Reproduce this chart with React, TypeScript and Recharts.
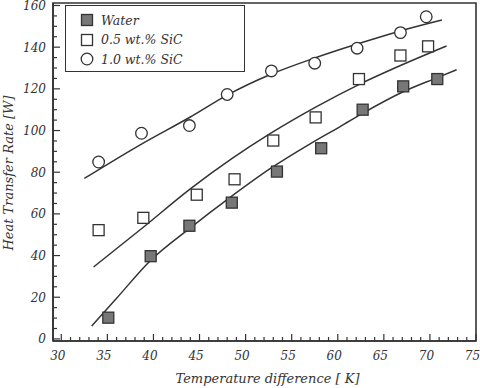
import React from "react";
import {
  ComposedChart,
  Line,
  Scatter,
  XAxis,
  YAxis,
  ReferenceArea,
} from "recharts";

// measured points
const waterX = [35.1, 39.7, 43.9, 48.5, 53.4, 58.2, 62.7, 67.1, 70.8];
const waterY = [10.2, 39.7, 54.3, 65.4, 80.3, 91.5, 110, 121.2, 124.7];
const sic05X = [34.05, 38.9, 44.7, 48.8, 53.0, 57.6, 62.3, 66.8, 69.8];
const sic05Y = [52.2, 58.1, 69.2, 76.6, 95.2, 106.3, 124.7, 136, 140.4];
const sic10X = [34.05, 38.7, 43.9, 48.0, 52.8, 57.5, 62.1, 66.8, 69.6];
const sic10Y = [84.9, 98.7, 102.4, 117.3, 128.6, 132.3, 139.5, 147, 154.6];

// fit curves
const fitWaterX = [33.3, 36, 39.6, 44, 48.1, 52.7, 57, 60.3, 62.6, 67.1, 70.8, 72.9];
const fitWaterY = [6.2, 19.5, 37.3, 53.3, 67.2, 81.8, 93.6, 102, 108, 118.6, 125.4, 129.2];
const fit05X = [33.5, 38.9, 44, 48.5, 52.65, 57.7, 62.4, 66.8, 71.8];
const fit05Y = [34.5, 53.6, 72, 86.5, 98.5, 111.5, 122.3, 131.2, 140.6];
const fit10X = [32.5, 38.7, 44, 48, 52.75, 57.5, 62.1, 66.8, 71.3];
const fit10Y = [77, 93.5, 106.5, 117, 127, 134.8, 141.5, 147.8, 153];

const xMajor = [30, 35, 40, 45, 50, 55, 60, 65, 70, 75];
const yMajor = [0, 20, 40, 60, 80, 100, 120, 140, 160];

const legendNames = ["Water", "0.5 wt.% SiC", "1.0 wt.% SiC"];

const xMinor: number[] = [];
for (let v = xMajor[0]; v <= xMajor[xMajor.length - 1]; v++) xMinor.push(v);
const yMinor: number[] = [];
for (let v = yMajor[0]; v <= yMajor[yMajor.length - 1]; v += 5) yMinor.push(v);

const pts = (xs: number[], ys: number[]) => xs.map((x, i) => ({ x, y: ys[i] }));

const INK = "#333";
const FONT = "'DejaVu Serif', serif";

const XTick = (props: any) => {
  const { x, y, payload } = props;
  const major = payload.value % 5 === 0;
  return (
    <g>
      <line x1={x} x2={x} y1={y} y2={y - (major ? 7 : 4)} stroke={INK} strokeWidth={1.2} />
      {major && (
        <text x={x - 3.5} y={y + 19} textAnchor="middle" fontFamily={FONT} fontStyle="italic" fontSize={12} fill={INK}>
          {payload.value}
        </text>
      )}
    </g>
  );
};

const YTick = (props: any) => {
  const { x, y, payload } = props;
  const major = payload.value % 20 === 0;
  return (
    <g>
      <line x1={x} x2={x + (major ? 7 : 4)} y1={y} y2={y} stroke={INK} strokeWidth={1.2} />
      {major && (
        <text x={x - 7} y={y + 4.5} textAnchor="end" fontFamily={FONT} fontStyle="italic" fontSize={12} fill={INK}>
          {payload.value}
        </text>
      )}
    </g>
  );
};

const Square = (fill: string) => (props: any) => {
  const { cx, cy } = props;
  return <rect x={cx - 5.5} y={cy - 5.5} width={11} height={11} fill={fill} stroke={INK} strokeWidth={1.3} />;
};

const Circle = (props: any) => {
  const { cx, cy } = props;
  return <circle cx={cx} cy={cy} r={5.8} fill="#fff" stroke={INK} strokeWidth={1.3} />;
};

const LegendBox = () => (
  <div
    style={{
      position: "absolute",
      left: 65,
      top: 5,
      width: 178,
      height: 65,
      border: `1.5px solid ${INK}`,
      background: "#fff",
      fontFamily: FONT,
      fontStyle: "italic",
      fontSize: 12.5,
      color: INK,
    }}
  >
    {legendNames.map((name, i) => (
      <div key={name} style={{ position: "absolute", left: 14, top: 5 + i * 19.5, height: 18, display: "flex", alignItems: "center" }}>
        <svg width={14} height={14}>
          {i === 2 ? (
            <circle cx={7} cy={7} r={5.8} fill="#fff" stroke={INK} strokeWidth={1.3} />
          ) : (
            <rect x={1.5} y={1.5} width={11} height={11} fill={i === 0 ? "#777" : "#fff"} stroke={INK} strokeWidth={1.3} />
          )}
        </svg>
        <span style={{ marginLeft: 7 }}>{name}</span>
      </div>
    ))}
  </div>
);

export default function App() {
  return (
    <div style={{ position: "absolute", left: 0, top: 0, width: 480, height: 388, background: "#fff" }}>
      <ComposedChart width={480} height={388} margin={{ top: 3, right: 4, left: 0, bottom: 0 }}>
        <XAxis
          type="number"
          dataKey="x"
          domain={[29.1, 75]}
          ticks={xMinor}
          interval={0}
          allowDataOverflow
          height={47}
          tickSize={0}
          tickMargin={0}
          tickLine={false}
          axisLine={{ stroke: INK, strokeWidth: 1.6 }}
          tick={<XTick />}
          label={{
            content: (p: any) => {
              const vb = p.viewBox;
              return (
                <text x={vb.x + vb.width / 2 + 3} y={vb.y + 42} textAnchor="middle" fontFamily={FONT} fontStyle="italic" fontSize={13} fill={INK}>
                  Temperature difference [ K]
                </text>
              );
            },
          }}
        />
        <YAxis
          type="number"
          dataKey="y"
          domain={[-1, 161.2]}
          ticks={yMinor}
          interval={0}
          allowDataOverflow
          width={53}
          tickSize={0}
          tickMargin={0}
          tickLine={false}
          axisLine={{ stroke: INK, strokeWidth: 1.6 }}
          tick={<YTick />}
          label={{
            content: (p: any) => {
              const vb = p.viewBox;
              const cx = 8;
              const cy = vb.y + vb.height / 2 + 1;
              return (
                <text x={cx} y={cy} transform={`rotate(-90 ${cx} ${cy})`} textAnchor="middle" dominantBaseline="central" fontFamily={FONT} fontStyle="italic" fontSize={13} fill={INK}>
                  Heat Transfer Rate [W]
                </text>
              );
            },
          }}
        />
        <ReferenceArea x1={29.1} x2={75} y1={-1} y2={161.2} fill="none" stroke={INK} strokeWidth={1.6} ifOverflow="visible" />
        <Line data={pts(fitWaterX, fitWaterY)} dataKey="y" type="monotone" stroke={INK} strokeWidth={1.5} dot={false} isAnimationActive={false} />
        <Line data={pts(fit05X, fit05Y)} dataKey="y" type="monotone" stroke={INK} strokeWidth={1.5} dot={false} isAnimationActive={false} />
        <Line data={pts(fit10X, fit10Y)} dataKey="y" type="monotone" stroke={INK} strokeWidth={1.5} dot={false} isAnimationActive={false} />
        <Scatter data={pts(waterX, waterY)} dataKey="y" shape={Square("#777")} isAnimationActive={false} />
        <Scatter data={pts(sic05X, sic05Y)} dataKey="y" shape={Square("#fff")} isAnimationActive={false} />
        <Scatter data={pts(sic10X, sic10Y)} dataKey="y" shape={Circle} isAnimationActive={false} />
      </ComposedChart>
      <LegendBox />
    </div>
  );
}
